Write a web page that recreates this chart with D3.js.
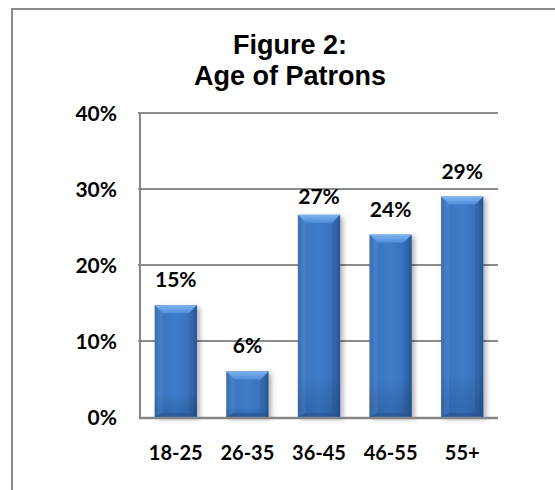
<!DOCTYPE html>
<html>
<head>
<meta charset="utf-8">
<script src="https://cdn.jsdelivr.net/npm/d3@7"></script>
<style>
  html, body { margin: 0; padding: 0; background: #fff; }
  svg { display: block; }
</style>
</head>
<body>
<svg id="chart" width="555" height="490"></svg>
<script>
// ---- data ----
const categories = ["18-25", "26-35", "36-45", "46-55", "55+"];
const values = [0.147, 0.06, 0.266, 0.24, 0.29];
const yTicks = [0, 0.1, 0.2, 0.3, 0.4];
const titleLines = ["Figure 2:", "Age of Patrons"];

// ---- layout ----
const svg = d3.select("#chart");
const plot = { left: 140, right: 498, top: 113, bottom: 417 };
const labelFont = "Lato, 'Open Sans', sans-serif";

const x = d3.scaleBand().domain(categories).range([plot.left, plot.right])
  .paddingInner(0.41).paddingOuter(0.205);
const y = d3.scaleLinear().domain([0, 0.4]).range([plot.bottom, plot.top]);
const pct = d3.format(".0%");

// outer frame (only left & top visible)
svg.append("rect").attr("x", 12).attr("y", 9).attr("width", 600).attr("height", 600)
  .attr("fill", "none").attr("stroke", "#8a8a8a").attr("stroke-width", 2);

// title
svg.append("g").selectAll("text").data(titleLines).join("text")
  .attr("x", 290).attr("y", (d, i) => 54 + i * 31)
  .attr("text-anchor", "middle")
  .attr("font-family", "'Liberation Sans', Arial, sans-serif")
  .attr("font-weight", "bold").attr("font-size", 27)
  .attr("fill", "#000").text(d => d);

// defs
const defs = svg.append("defs");
const bodyGrad = defs.append("linearGradient").attr("id", "bodyGrad")
  .attr("x1", 0).attr("x2", 1).attr("y1", 0).attr("y2", 0);
bodyGrad.append("stop").attr("offset", "0%").attr("stop-color", "#2f63a8");
bodyGrad.append("stop").attr("offset", "12%").attr("stop-color", "#3a76c2");
bodyGrad.append("stop").attr("offset", "50%").attr("stop-color", "#3d7bc8");
bodyGrad.append("stop").attr("offset", "88%").attr("stop-color", "#3870ba");
bodyGrad.append("stop").attr("offset", "100%").attr("stop-color", "#2a5a9c");
const vGrad = defs.append("linearGradient").attr("id", "vGrad")
  .attr("x1", 0).attr("x2", 0).attr("y1", 0).attr("y2", 1);
vGrad.append("stop").attr("offset", "0%").attr("stop-color", "#ffffff").attr("stop-opacity", 0.0);
vGrad.append("stop").attr("offset", "80%").attr("stop-color", "#000000").attr("stop-opacity", 0.0);
vGrad.append("stop").attr("offset", "100%").attr("stop-color", "#0a2a5a").attr("stop-opacity", 0.22);
const topGrad = defs.append("linearGradient").attr("id", "topGrad")
  .attr("x1", 0).attr("x2", 0).attr("y1", 0).attr("y2", 1);
topGrad.append("stop").attr("offset", "0%").attr("stop-color", "#7db4f0");
topGrad.append("stop").attr("offset", "100%").attr("stop-color", "#4f8edb");
const shadow = defs.append("filter").attr("id", "shadow")
  .attr("x", "-20%").attr("y", "-10%").attr("width", "150%").attr("height", "130%");
shadow.append("feDropShadow").attr("dx", 3).attr("dy", 2).attr("stdDeviation", 2.5)
  .attr("flood-color", "#000").attr("flood-opacity", 0.3);

// gridlines
svg.append("g").selectAll("line").data(yTicks.filter(t => t > 0)).join("line")
  .attr("x1", plot.left - 2).attr("x2", plot.right)
  .attr("y1", d => y(d)).attr("y2", d => y(d))
  .attr("stroke", "#8c8c8c").attr("stroke-width", 2);

// y tick labels
svg.append("g").selectAll("text").data(yTicks).join("text")
  .attr("x", 117).attr("y", d => y(d)).attr("dy", "0.36em")
  .attr("text-anchor", "end")
  .attr("font-family", labelFont).attr("font-weight", "bold").attr("font-size", 21)
  .attr("fill", "#000").text(d => pct(d));

// bars
const bw = x.bandwidth();
const bev = 8;
const bars = svg.append("g").selectAll("g").data(values).join("g")
  .attr("transform", (d, i) => `translate(${x(categories[i])},${y(d)})`);
bars.append("rect")
  .attr("width", bw).attr("height", d => y(0) - y(d))
  .attr("fill", "url(#bodyGrad)").attr("filter", "url(#shadow)");
bars.append("rect")
  .attr("width", bw).attr("height", d => y(0) - y(d))
  .attr("fill", "url(#vGrad)");
// top bevel
bars.append("path")
  .attr("d", `M0,0 L${bw},0 L${bw - bev},${bev} L${bev},${bev} Z`)
  .attr("fill", "url(#topGrad)");
// left bevel
bars.append("path")
  .attr("d", d => { const h = y(0) - y(d); return `M0,0 L${bev},${bev} L${bev},${h - 4} L0,${h} Z`; })
  .attr("fill", "#ffffff").attr("fill-opacity", 0.06);
// right bevel
bars.append("path")
  .attr("d", d => { const h = y(0) - y(d); return `M${bw},0 L${bw - bev},${bev} L${bw - bev},${h - 4} L${bw},${h} Z`; })
  .attr("fill", "#0a2a5a").attr("fill-opacity", 0.12);
// bottom strip
bars.append("path")
  .attr("d", d => { const h = y(0) - y(d); return `M0,${h} L${bev},${h - 4} L${bw - bev},${h - 4} L${bw},${h} Z`; })
  .attr("fill", "#1d4580").attr("fill-opacity", 0.35);

// value labels
const labelGap = 18;
const labelShift = { 2: 7 };
svg.append("g").selectAll("text").data(values).join("text")
  .attr("x", (d, i) => x(categories[i]) + bw / 2)
  .attr("y", (d, i) => y(d) - labelGap + (labelShift[i] || 0))
  .attr("text-anchor", "middle")
  .attr("font-family", labelFont).attr("font-weight", "bold").attr("font-size", 21)
  .attr("fill", "#000").text(d => pct(d));

// axes lines
svg.append("line").attr("x1", plot.left).attr("x2", plot.left)
  .attr("y1", plot.top - 1).attr("y2", plot.bottom + 1)
  .attr("stroke", "#868686").attr("stroke-width", 2);
svg.append("line").attr("x1", plot.left - 1).attr("x2", plot.right)
  .attr("y1", plot.bottom + 1).attr("y2", plot.bottom + 1)
  .attr("stroke", "#868686").attr("stroke-width", 2.5);

// category labels
svg.append("g").selectAll("text").data(categories).join("text")
  .attr("x", d => x(d) + bw / 2).attr("y", 460)
  .attr("text-anchor", "middle")
  .attr("font-family", labelFont).attr("font-weight", "bold").attr("font-size", 20)
  .attr("fill", "#000").text(d => d);
</script>
</body>
</html>
